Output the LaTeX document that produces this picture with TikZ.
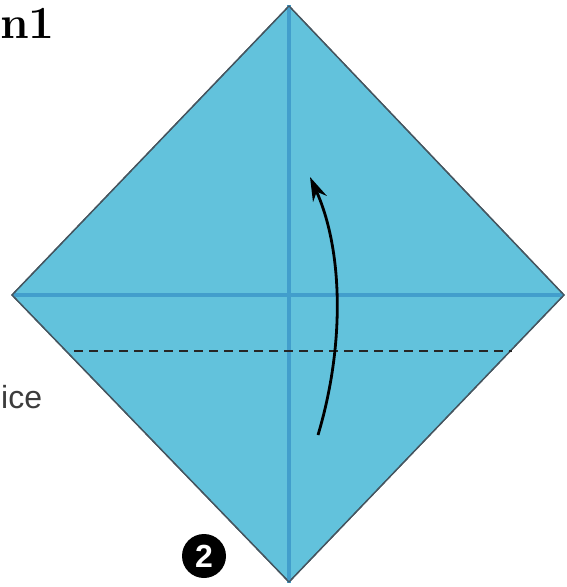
\documentclass[tikz,border=0pt]{standalone}
\usepackage{fontspec}
\newfontfamily\labelfont{Liberation Sans}
\usetikzlibrary{arrows.meta}

\definecolor{paper}{RGB}{98,194,220}
\definecolor{crease}{RGB}{66,158,204}
\definecolor{edge}{RGB}{70,86,96}
\definecolor{labelgray}{RGB}{60,60,60}

\begin{document}
\begin{tikzpicture}[
    x=1pt, y=-1pt,
    % Stili
    sheet/.style={fill=paper, draw=edge, line width=1.3pt, line join=miter},
    creaseline/.style={draw=crease, line width=3.5pt},
    foldline/.style={draw=black!85, line width=1.5pt, dash pattern=on 9pt off 6pt},
    foldarrow/.style={line width=2.8pt, -{Stealth[length=24pt, width=15pt]}},
    badge/.style={circle, fill=black, inner sep=0pt, minimum size=44pt,
      text=white, font=\labelfont\bfseries\fontsize{32}{32}\selectfont}
  ]

  \useasboundingbox (0,0) rectangle (566,587);

  % Foglio
  \coordinate (top) at (289,6);
  \coordinate (left) at (12,295);
  \coordinate (right) at (564,295);
  \coordinate (bottom) at (289,582);
  \path[sheet] (top) -- (right) -- (bottom) -- (left) -- cycle;

  % Pieghe
  \draw[creaseline] ([yshift=1pt]top) -- ([yshift=-1pt]bottom);
  \draw[creaseline] ([xshift=1.5pt]left) -- ([xshift=-1.5pt]right);
  \path[sheet, fill=none] (top) -- (right) -- (bottom) -- (left) -- cycle;

  % Linea tratteggiata
  \coordinate (dashl) at (74,351);
  \coordinate (dashr) at (512,351);
  \draw[foldline] (dashl) -- (dashr);

  % Freccia
  \coordinate (arrtail) at (318,435);
  \coordinate (arrhead) at (310,177);
  \draw[foldarrow] (arrtail) .. controls (345,345) and (343,250) .. (arrhead);

  % Testi
  \node[anchor=base west, inner sep=0pt, font=\bfseries\fontsize{46}{46}\selectfont]
    (title) at (0,38) {n1};
  \node[anchor=base west, inner sep=0pt, text=labelgray,
    font=\labelfont\fontsize{32}{32}\selectfont] (side) at (1,408) {ice};
  \node[badge] (step2) at (204,556) {2};

\end{tikzpicture}
\end{document}
